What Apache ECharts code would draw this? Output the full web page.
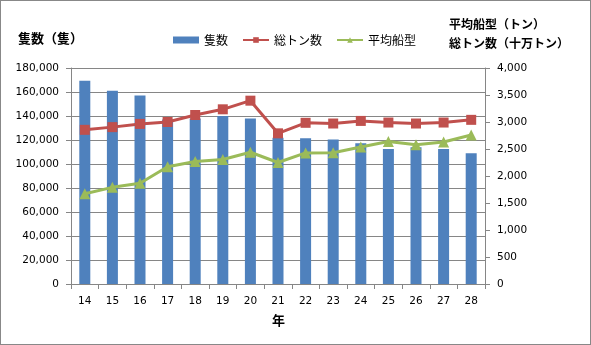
<!DOCTYPE html>
<html><head><meta charset="utf-8">
<script src="https://cdn.jsdelivr.net/npm/echarts@6/dist/echarts.min.js"></script>
<style>html,body{margin:0;padding:0;background:#fff}#c{width:591px;height:345px;box-sizing:border-box;border:1px solid #888}</style>
</head><body><div id="c"></div>
<script>
const categories = ['14','15','16','17','18','19','20','21','22','23','24','25','26','27','28'];
const vessels = [169300,161000,157000,137000,138000,140000,138000,121800,121500,120500,117300,112600,114000,112600,109000];
const grossTon = [2855,2905,2965,3000,3130,3235,3395,2790,2985,2972,3020,2990,2972,2990,3040];
const avgSize = [1670,1790,1865,2170,2270,2305,2440,2250,2428,2430,2538,2640,2578,2630,2758];
const seriesNames = ['隻数','総トン数','平均船型'];
const leftTicks = {min:0,max:180000,interval:20000};
const rightTicks = {min:0,max:4000,interval:500};

const font = '"Noto Sans CJK JP", sans-serif';
const numFont = '"DejaVu Sans", sans-serif';
const fmt = v => v.toLocaleString('en-US');
const chart = echarts.init(document.getElementById('c'), null, {renderer:'canvas'});
chart.setOption({
  animation:false,
  textStyle:{fontFamily:font},
  graphic:[
    {type:'text',left:17,top:31,style:{text:'隻数（隻）',font:'bold 13px '+font,fill:'#000'}},
    {type:'text',left:448,top:14,style:{text:'平均船型（トン）\n総トン数（十万トン）',font:'bold 12px '+font,fill:'#000',align:'center',lineHeight:19,x:70}},
    {type:'text',left:271,top:313,style:{text:'年',font:'bold 13px '+font,fill:'#000'}}
  ],
  legend:{
    top:28,left:167,itemWidth:26,itemHeight:7,itemGap:14,
    textStyle:{fontSize:12,color:'#000',fontFamily:font},
    data:[{name:seriesNames[0],icon:'rect'},{name:seriesNames[1]},{name:seriesNames[2]}]
  },
  grid:{left:70,right:105,top:67,bottom:60,containLabel:false},
  xAxis:{
    type:'category',data:categories,boundaryGap:true,
    axisLine:{lineStyle:{color:'#868686'}},
    axisTick:{show:true,length:5,lineStyle:{color:'#868686'}},
    axisLabel:{color:'#000',fontSize:10.5,margin:12,fontFamily:numFont}
  },
  yAxis:[
    {type:'value',min:leftTicks.min,max:leftTicks.max,interval:leftTicks.interval,
     axisLine:{show:true,lineStyle:{color:'#868686'}},
     axisTick:{show:true,length:5,lineStyle:{color:'#868686'}},
     splitLine:{lineStyle:{color:'#868686'}},
     axisLabel:{color:'#000',fontSize:10.5,margin:12,formatter:fmt,fontFamily:numFont}},
    {type:'value',min:rightTicks.min,max:rightTicks.max,interval:rightTicks.interval,position:'right',
     axisLine:{show:true,lineStyle:{color:'#868686'}},
     axisTick:{show:true,length:5,lineStyle:{color:'#868686'}},
     splitLine:{show:false},
     axisLabel:{color:'#000',fontSize:10.5,margin:12,formatter:fmt,fontFamily:numFont}}
  ],
  series:[
    {name:seriesNames[0],type:'bar',data:vessels,barWidth:11,itemStyle:{color:'#4F81BD'},yAxisIndex:0},
    {name:seriesNames[1],type:'line',data:grossTon,yAxisIndex:1,symbol:'rect',symbolSize:10,
     lineStyle:{color:'#C0504D',width:3},itemStyle:{color:'#C0504D'}},
    {name:seriesNames[2],type:'line',data:avgSize,yAxisIndex:1,symbol:'triangle',symbolSize:11,
     lineStyle:{color:'#9BBB59',width:3},itemStyle:{color:'#9BBB59'}}
  ]
});
</script></body></html>
